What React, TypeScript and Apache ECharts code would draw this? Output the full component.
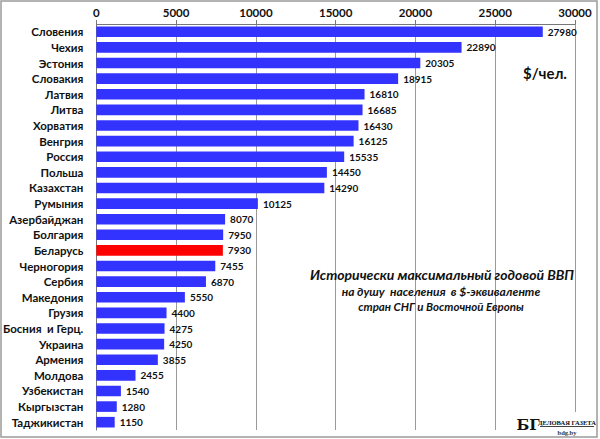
import React, { useEffect, useRef } from "react";
import * as echarts from "echarts";

const countries = [
  "Словения", "Чехия", "Эстония", "Словакия", "Латвия", "Литва", "Хорватия",
  "Венгрия", "Россия", "Польша", "Казахстан", "Румыния", "Азербайджан",
  "Болгария", "Беларусь", "Черногория", "Сербия", "Македония", "Грузия",
  "Босния  и Герц.", "Украина", "Армения", "Молдова", "Узбекистан",
  "Кыргызстан", "Таджикистан",
];
const gdpValues = [
  27980, 22890, 20305, 18915, 16810, 16685, 16430, 16125, 15535, 14450, 14290,
  10125, 8070, 7950, 7930, 7455, 6870, 5550, 4400, 4275, 4250, 3855, 2455,
  1540, 1280, 1150,
];
const highlighted = "Беларусь";
const axisTicks = [0, 5000, 10000, 15000, 20000, 25000, 30000];
const titleLines = [
  "Исторически максимальный годовой ВВП",
  "на душу  населения  в $-эквиваленте",
  "стран СНГ и Восточной Европы",
];
const unitLabel = "$/чел.";

export default function App() {
  const ref = useRef<HTMLDivElement>(null);
  useEffect(() => {
    document.body.style.margin = "0";
    const chart = echarts.init(ref.current!, null, { renderer: "svg" });
    const bold = "Lato";
    const titleText = (text: string, y: number, size: number, x: number) => ({
      type: "text",
      x,
      y,
      style: {
        text,
        fontFamily: bold,
        fontWeight: "bold",
        fontStyle: "italic",
        fontSize: size,
        fill: "#111",
        align: "center",
        verticalAlign: "middle",
      },
      z: 100,
    });
    chart.setOption({
      animation: false,
      backgroundColor: "#ffffff",
      grid: { left: 96, right: 25, top: 24, height: 406 },
      xAxis: {
        type: "value",
        position: "top",
        min: axisTicks[0],
        max: axisTicks[axisTicks.length - 1],
        interval: 5000,
        axisLine: { show: true, lineStyle: { color: "#777", width: 1 } },
        axisTick: { show: true, length: 4, lineStyle: { color: "#777" } },
        axisLabel: {
          color: "#111",
          fontFamily: bold,
          fontWeight: "bold",
          fontSize: 11.5,
          margin: 6,
          formatter: (v: number) => String(v),
        },
        splitLine: { show: true, lineStyle: { color: "#9a9a9a", width: 1 } },
      },
      yAxis: {
        type: "category",
        inverse: true,
        data: countries,
        axisLine: { show: true, lineStyle: { color: "#777", width: 1 } },
        axisTick: { show: false },
        axisLabel: {
          color: "#111",
          fontFamily: bold,
          fontWeight: "bold",
          fontSize: 11.5,
          margin: 13,
        },
      },
      series: [
        {
          type: "bar",
          barCategoryGap: "32%",
          data: gdpValues.map((v, i) => ({
            value: v,
            itemStyle: { color: countries[i] === highlighted ? "#ff0000" : "#3333ff" },
          })),
          label: {
            show: true,
            position: "right",
            distance: 5,
            color: "#111",
            fontFamily: bold,
            fontWeight: "bold",
            fontSize: 10,
          },
        },
      ],
      graphic: [
        {
          type: "rect",
          shape: { x: 1, y: 1, width: 596, height: 436 },
          style: { fill: "none", stroke: "#9a9a9a", lineWidth: 1.5 },
          silent: true,
          z: 100,
        },
        {
          type: "text",
          x: 545,
          y: 73,
          style: {
            text: unitLabel,
            fontFamily: bold,
            fontWeight: "bold",
            fontSize: 15,
            fill: "#111",
            align: "center",
            verticalAlign: "middle",
          },
          z: 100,
        },
        titleText(titleLines[0], 274, 14, 442),
        titleText(titleLines[1], 291, 12, 441),
        titleText(titleLines[2], 306, 11.5, 441),
        {
          type: "rect",
          shape: { x: 517, y: 412, width: 78, height: 24 },
          style: { fill: "#ffffff" },
          z: 99,
        },
        {
          type: "text",
          x: 528,
          y: 425,
          style: {
            text: "БГ",
            fontFamily: "DejaVu Serif",
            fontWeight: "bold",
            fontSize: 15,
            fill: "#111",
            align: "center",
            verticalAlign: "middle",
          },
          z: 100,
        },
        {
          type: "text",
          x: 567,
          y: 422,
          style: {
            text: "ДЕЛОВАЯ ГАЗЕТА",
            fontFamily: "Liberation Serif",
            fontWeight: "bold",
            fontSize: 6.5,
            fill: "#111",
            align: "center",
            verticalAlign: "middle",
          },
          z: 100,
        },
        {
          type: "line",
          shape: { x1: 540, y1: 426.5, x2: 594, y2: 426.5 },
          style: { stroke: "#111", lineWidth: 0.8 },
          z: 100,
        },
        {
          type: "text",
          x: 567,
          y: 432,
          style: {
            text: "bdg.by",
            fontFamily: "Liberation Serif",
            fontWeight: "bold",
            fontSize: 6.5,
            fill: "#333",
            align: "center",
            verticalAlign: "middle",
          },
          z: 100,
        },
      ],
    });
    return () => chart.dispose();
  }, []);
  return <div ref={ref} style={{ width: 600, height: 439 }} />;
}
